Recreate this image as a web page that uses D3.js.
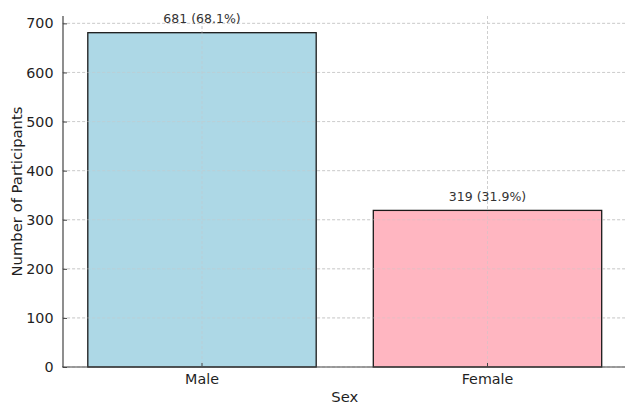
<!DOCTYPE html>
<html>
<head>
<meta charset="utf-8">
<script src="https://cdn.jsdelivr.net/npm/d3@7"></script>
<style>
  html, body { margin: 0; padding: 0; background: #fff; }
  svg { display: block; font-family: "DejaVu Sans", sans-serif; }
</style>
</head>
<body>
<svg id="chart" width="625" height="404"></svg>
<script>
const categories = ["Male", "Female"];
const counts = [681, 319];
const percents = ["68.1%", "31.9%"];
const colors = ["#add8e6", "#ffb6c1"];
const yTicks = [0, 100, 200, 300, 400, 500, 600, 700];
const yMax = 715;

const svg = d3.select("#chart");
const mLeft = 63, mTop = 16, mBottom = 367;
const step = 285.5;
const x0 = 202; // centre of first category
const x = d3.scaleLinear().domain([0, 1]).range([x0, x0 + step]);
const xLeft = x(-0.49), xRight = x(1.49);
const y = d3.scaleLinear().domain([0, yMax]).range([mBottom, mTop]);
const barW = 0.8 * step;
const textCol = "#1f1f1f";

function drawGrid(g, color, ticks) {
  g.selectAll("line.h").data(ticks).join("line").attr("class", "h")
    .attr("x1", xLeft).attr("x2", xRight)
    .attr("y1", d => y(d)).attr("y2", d => y(d))
    .attr("stroke", color).attr("stroke-width", 0.8)
    .attr("stroke-dasharray", "3,2");
  g.selectAll("line.v").data(categories).join("line").attr("class", "v")
    .attr("x1", (d, i) => x(i)).attr("x2", (d, i) => x(i))
    .attr("y1", mTop).attr("y2", mBottom)
    .attr("stroke", color).attr("stroke-width", 0.8)
    .attr("stroke-dasharray", "3,2");
}

drawGrid(svg.append("g"), "#cccccc", yTicks);

// bars
svg.append("g").selectAll("rect").data(counts).join("rect")
  .attr("x", (d, i) => x(i) - barW / 2)
  .attr("width", barW)
  .attr("y", d => y(d))
  .attr("height", d => mBottom - y(d))
  .attr("fill", (d, i) => colors[i])
  .attr("stroke", "#1a1a1a").attr("stroke-width", 1.3);

// grid drawn over bars, faint
drawGrid(svg.append("g").attr("opacity", 0.6), "#c8c8c8", yTicks.filter(t => t > 0));

// annotations
svg.append("g").selectAll("text").data(counts).join("text")
  .attr("x", (d, i) => x(i))
  .attr("y", d => y(d) - 9.5)
  .attr("text-anchor", "middle")
  .attr("font-size", 12.5)
  .attr("fill", "#333333")
  .text((d, i) => `${d} (${percents[i]})`);

// y axis
const yAxis = d3.axisLeft(y).tickValues(yTicks).tickSizeInner(-4).tickSizeOuter(0).tickPadding(9.5);
const gy = svg.append("g").attr("transform", `translate(${mLeft},0)`).call(yAxis);
gy.select(".domain").attr("stroke", "#444").attr("stroke-width", 1.2)
  .attr("d", `M0,${mTop}V${mBottom}`);
gy.selectAll(".tick line").attr("stroke", "#444").attr("stroke-width", 1);
gy.selectAll(".tick text").attr("font-size", 14.3).attr("fill", textCol)
  .attr("font-family", "DejaVu Sans");

// x axis
const xb = d3.scaleOrdinal().domain(categories).range([x(0), x(1)]);
const gx = svg.append("g").attr("transform", `translate(0,${mBottom})`);
gx.append("line").attr("x1", xLeft).attr("x2", xRight).attr("y1", 0).attr("y2", 0)
  .attr("stroke", "#444").attr("stroke-width", 1.2);
const xt = gx.selectAll("g.tick").data(categories).join("g")
  .attr("transform", d => `translate(${xb(d)},0)`);
xt.append("line").attr("y1", 0).attr("y2", -4).attr("stroke", "#444").attr("stroke-width", 1);
xt.append("text").attr("y", 17).attr("text-anchor", "middle")
  .attr("font-size", 14.3).attr("fill", textCol).text(d => d);

// axis labels
svg.append("text").attr("x", (xLeft + xRight) / 2).attr("y", 402)
  .attr("text-anchor", "middle").attr("font-size", 14.8).attr("fill", textCol).text("Sex");
svg.append("text").attr("transform", `translate(21.5,${(mTop + mBottom) / 2}) rotate(-90)`)
  .attr("text-anchor", "middle").attr("font-size", 14.8).attr("fill", textCol)
  .text("Number of Participants");
</script>
</body>
</html>
